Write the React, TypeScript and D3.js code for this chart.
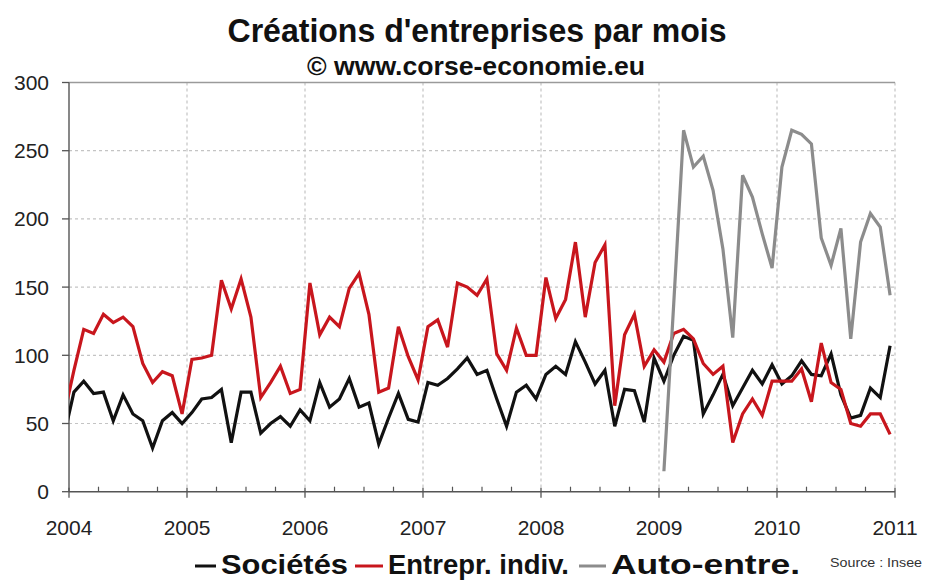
import React from "react";
import * as d3 from "d3";

// Monthly series. Sociétés & Entrepr. indiv. start Dec 2003 (clipped at the axis); Auto-entre. starts Jan 2009.
const seriesStart = 2003 + 11 / 12;
const societes = [
  41,
  73, 81, 72, 73, 52, 71, 57, 52, 32, 52, 58, 50,
  58, 68, 69, 75, 36, 73, 73, 43, 50, 55, 48, 60,
  52, 80, 62, 68, 83, 62, 65, 35, 54, 72, 53, 51,
  80, 78, 83, 90, 98, 86, 89, 68, 48, 73, 78, 68,
  86, 92, 86, 110, 95, 79, 89, 48, 75, 74, 51, 98,
  81, 100, 114, 111, 57, 71, 86, 63, 76, 89, 79, 93,
  79, 85, 96, 86, 85, 101, 71, 54, 56, 76, 69, 107,
];
const entreprIndiv = [
  56,
  89, 119, 116, 130, 124, 128, 121, 94, 80, 88, 85, 57,
  97, 98, 100, 155, 134, 156, 128, 69, 80, 92, 72, 75,
  153, 115, 128, 121, 149, 160, 130, 73, 76, 121, 99, 82,
  121, 126, 106, 153, 150, 144, 156, 101, 89, 120, 100, 100,
  157, 127, 141, 183, 128, 168, 181, 63, 115, 130, 92, 104,
  95, 116, 119, 112, 94, 86, 92, 36, 57, 68, 56, 81,
  81, 81, 90, 66, 109, 80, 75, 50, 48, 57, 57, 42,
];
const autoStart = 2009;
const autoEntre = [
  15, 138, 265, 238, 246, 221, 178, 113, 232, 216, 189, 164,
  238, 265, 262, 255, 186, 166, 193, 112, 183, 204, 194, 144,
];

const yearTicks = [2004, 2005, 2006, 2007, 2008, 2009, 2010, 2011];
const yTicks = [0, 50, 100, 150, 200, 250, 300];

const legendItems = [
  { label: "Sociétés", color: "#111111" },
  { label: "Entrepr. indiv.", color: "#c8161d" },
  { label: "Auto-entre.", color: "#8c8c8c" },
];

const FONT = "'Liberation Sans', Arial, Helvetica, sans-serif";

export default function App() {
  const W = 925;
  const H = 581;
  const x = d3.scaleLinear().domain([2004, 2011]).range([69, 895]);
  const y = d3.scaleLinear().domain([0, 300]).range([491.7, 82.5]);

  const toPts = (vals: number[], start: number) =>
    vals.map((v, i) => [x(start + (i + 0.5) / 12), y(v)] as [number, number]);

  const line = d3.line<[number, number]>();

  const quarters: number[] = [];
  for (let yr = 2004; yr < 2011; yr++) {
    for (let q = 1; q < 4; q++) quarters.push(yr + q / 4);
  }

  const series = [
    { vals: societes, start: seriesStart, color: legendItems[0].color },
    { vals: entreprIndiv, start: seriesStart, color: legendItems[1].color },
    { vals: autoEntre, start: autoStart, color: legendItems[2].color },
  ];

  // legend geometry
  const legendText = [
    { dash: [195, 216], tx: 221, len: 127 },
    { dash: [355, 383], tx: 388, len: 181 },
    { dash: [579, 606], tx: 611, len: 189 },
  ];

  return (
    <svg
      width={W}
      height={H}
      style={{ position: "absolute", left: 0, top: 0, background: "#fff" }}
      fontFamily={FONT}
    >
      <defs>
        <clipPath id="plotclip">
          <rect x={69} y={70} width={840} height={430} />
        </clipPath>
      </defs>
      <rect width={W} height={H} fill="#fff" />

      {/* title */}
      <text x={477} y={42} textAnchor="middle" fontSize={34} fontWeight="bold" fill="#111"
        textLength={499} lengthAdjust="spacingAndGlyphs">
        Créations d'entreprises par mois
      </text>
      <text x={476} y={75} textAnchor="middle" fontSize={25} fontWeight="bold" fill="#111"
        textLength={338} lengthAdjust="spacingAndGlyphs">
        © www.corse-economie.eu
      </text>

      {/* grid */}
      {yTicks.filter((t) => t > 0 && t < 300).map((t) => (
        <line key={"gy" + t} x1={69} x2={895} y1={y(t)} y2={y(t)} stroke="#c4c4c4" strokeWidth={1.2} strokeDasharray="3,3" />
      ))}
      {yearTicks.filter((t) => t > 2004).map((t) => (
        <line key={"gx" + t} x1={x(t)} x2={x(t)} y1={y(300)} y2={y(0)} stroke="#c4c4c4" strokeWidth={1.2} strokeDasharray="3,3" />
      ))}
      <line x1={69} x2={895} y1={y(300)} y2={y(300)} stroke="#9a9a9a" strokeWidth={1.3} />

      {/* axes */}
      <line x1={69} x2={69} y1={y(300)} y2={y(0)} stroke="#555" strokeWidth={1.4} />
      <line x1={69} x2={895} y1={y(0)} y2={y(0)} stroke="#555" strokeWidth={1.4} />
      {yTicks.map((t) => (
        <g key={"yt" + t}>
          <line x1={62} x2={69} y1={y(t)} y2={y(t)} stroke="#555" strokeWidth={1.3} />
          <text x={49} y={y(t) + 7.5} textAnchor="end" fontSize={21} fill="#222">{t}</text>
        </g>
      ))}
      {yearTicks.map((t) => (
        <g key={"xt" + t}>
          <line x1={x(t)} x2={x(t)} y1={y(0) - 4} y2={y(0) + 6} stroke="#555" strokeWidth={1.3} />
          <text x={x(t)} y={535} textAnchor="middle" fontSize={21} fill="#222">{t}</text>
        </g>
      ))}
      {quarters.map((q) => (
        <line key={"q" + q} x1={x(q)} x2={x(q)} y1={y(0) - 5} y2={y(0)} stroke="#555" strokeWidth={1.2} />
      ))}

      {/* series */}
      <g clipPath="url(#plotclip)">
        {series.map((s, k) => (
          <path key={k} d={line(toPts(s.vals, s.start)) || ""} fill="none" stroke={s.color}
            strokeWidth={3.2} strokeLinejoin="miter" strokeMiterlimit={4} />
        ))}
      </g>

      {/* legend */}
      {legendItems.map((it, k) => (
        <g key={"lg" + k}>
          <line x1={legendText[k].dash[0]} x2={legendText[k].dash[1]} y1={566} y2={566} stroke={it.color} strokeWidth={3} />
          <text x={legendText[k].tx} y={574} fontSize={27} fontWeight="bold" fill="#111"
            textLength={legendText[k].len} lengthAdjust="spacingAndGlyphs">{it.label}</text>
        </g>
      ))}
      <text x={830} y={567} fontSize={13} fill="#333" textLength={92} lengthAdjust="spacingAndGlyphs">Source : Insee</text>
    </svg>
  );
}
